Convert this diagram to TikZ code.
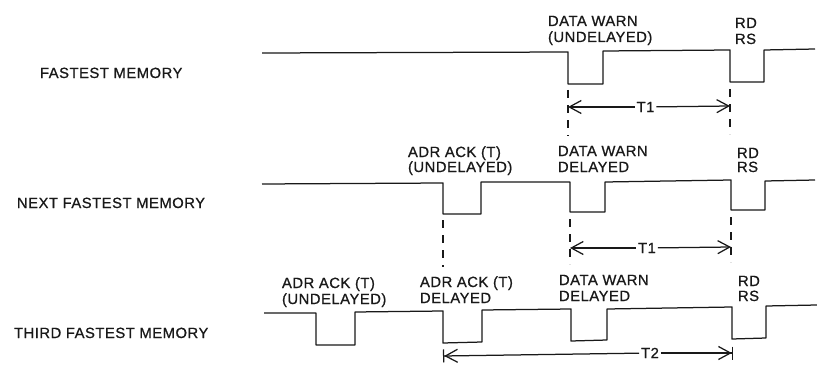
\documentclass[tikz,border=0pt]{standalone}
\usepackage{fontspec}
\setmainfont{Liberation Sans}[LetterSpace=3.5,RawFeature={embolden=0.8}]
\usetikzlibrary{arrows.meta}
\tikzset{
  wave/.style={line width=1.25pt,line join=round,black!90},
  dashline/.style={line width=1.2pt,dash pattern=on 8pt off 7pt,black!90},
  spanl/.style={line width=1.25pt,black!90,{Straight Barb[length=12pt,width=13pt,line width=1.25pt]}-},
  spanr/.style={line width=1.25pt,black!90,-{Straight Barb[length=12pt,width=13pt,line width=1.25pt]}},
  spanlb/.style={line width=1.25pt,black!90,{Bar[width=13pt,line width=1.25pt,sep=0pt]Straight Barb[length=12pt,width=13pt,line width=1.25pt]}-},
  spanrb/.style={line width=1.25pt,black!90,-{Straight Barb[length=12pt,width=13pt,line width=1.25pt]Bar[width=13pt,line width=1.25pt,sep=0pt]}},
  lbl/.style={anchor=base west,inner sep=0pt,outer sep=0pt,font=\fontsize{14.8pt}{16pt}\selectfont,text=black!90},
  gaplbl/.style={anchor=center,inner sep=0pt,outer sep=2pt,font=\fontsize{14.8pt}{16pt}\selectfont,text=black!90}
}
\begin{document}
\begin{tikzpicture}[x=1pt,y=-1pt]
\useasboundingbox (0,0) rectangle (817,369);

% waveforms
\draw[wave] (262,53) -- (568,52) -- (568,84) -- (603,84) -- (603,51) -- (730,50) -- (730,82) -- (764,82) -- (764,50) -- (815,49);
\draw[wave] (262,184) -- (443,183) -- (443,214) -- (481,214) -- (481,182) -- (570,182) -- (570,212) -- (605,212) -- (605,182) -- (731,180) -- (731,210) -- (765,210) -- (765,181) -- (815,180);
\draw[wave] (264,313) -- (316,313) -- (316,345) -- (355,345) -- (355,312) -- (443,311) -- (443,343) -- (482,342) -- (482,310) -- (571,309) -- (571,341) -- (607,340) -- (607,309) -- (732,307) -- (732,339) -- (766,338) -- (766,306) -- (817,305);

% dashed guides
\coordinate (d1t) at (568,90);  \coordinate (d1b) at (568,136);
\coordinate (d2t) at (730,89);  \coordinate (d2b) at (730,134);
\coordinate (d3t) at (443,220); \coordinate (d3b) at (443,267);
\coordinate (d4t) at (570,219); \coordinate (d4b) at (570,264);
\coordinate (d5t) at (731,217); \coordinate (d5b) at (731,262);
\draw[dashline] (d1t) -- (d1b);
\draw[dashline] (d2t) -- (d2b);
\draw[dashline] (d3t) -- (d3b);
\draw[dashline] (d4t) -- (d4b);
\draw[dashline] (d5t) -- (d5b);

% interval arrows
\coordinate (a1l) at (568,107); \coordinate (a1r) at (730,106);
\coordinate (a2l) at (570,248); \coordinate (a2r) at (731,247);
\coordinate (a3l) at (443,356); \coordinate (a3r) at (733,353);
\node[gaplbl] (t1a) at (645.5,107) {T1};
\node[gaplbl] (t1b) at (647,248) {T1};
\node[gaplbl] (t2) at (650,353) {T2};
\draw[spanl] (a1l) -- (t1a);
\draw[spanr] (t1a) -- (a1r);
\draw[spanl] (a2l) -- (t1b);
\draw[spanr] (t1b) -- (a2r);
\draw[spanlb] (a3l) -- (t2);
\draw[spanrb] (t2) -- (a3r);

% left labels
\node[lbl] (m1) at (40,78) {FASTEST MEMORY};
\node[lbl] (m2) at (17,208) {NEXT FASTEST MEMORY};
\node[lbl] (m3) at (14,338) {THIRD FASTEST MEMORY};

% row 1
\node[lbl] (r1a) at (548,26) {DATA WARN};
\node[lbl] (r1b) at (548,42) {(UNDELAYED)};
\node[lbl] (r1c) at (735,28) {RD};
\node[lbl] (r1d) at (735,44) {RS};

% row 2
\node[lbl] (r2a) at (408,157) {ADR ACK (T)};
\node[lbl] (r2b) at (408,172) {(UNDELAYED)};
\node[lbl] (r2c) at (558,156) {DATA WARN};
\node[lbl] (r2d) at (558,172) {DELAYED};
\node[lbl] (r2e) at (737,158) {RD};
\node[lbl] (r2f) at (737,172) {RS};

% row 3
\node[lbl] (r3a) at (282,288) {ADR ACK (T)};
\node[lbl] (r3b) at (282,304) {(UNDELAYED)};
\node[lbl] (r3c) at (420,287) {ADR ACK (T)};
\node[lbl] (r3d) at (420,303) {DELAYED};
\node[lbl] (r3e) at (559,285) {DATA WARN};
\node[lbl] (r3f) at (559,301) {DELAYED};
\node[lbl] (r3g) at (738,286) {RD};
\node[lbl] (r3h) at (738,301) {RS};
\end{tikzpicture}
\end{document}
